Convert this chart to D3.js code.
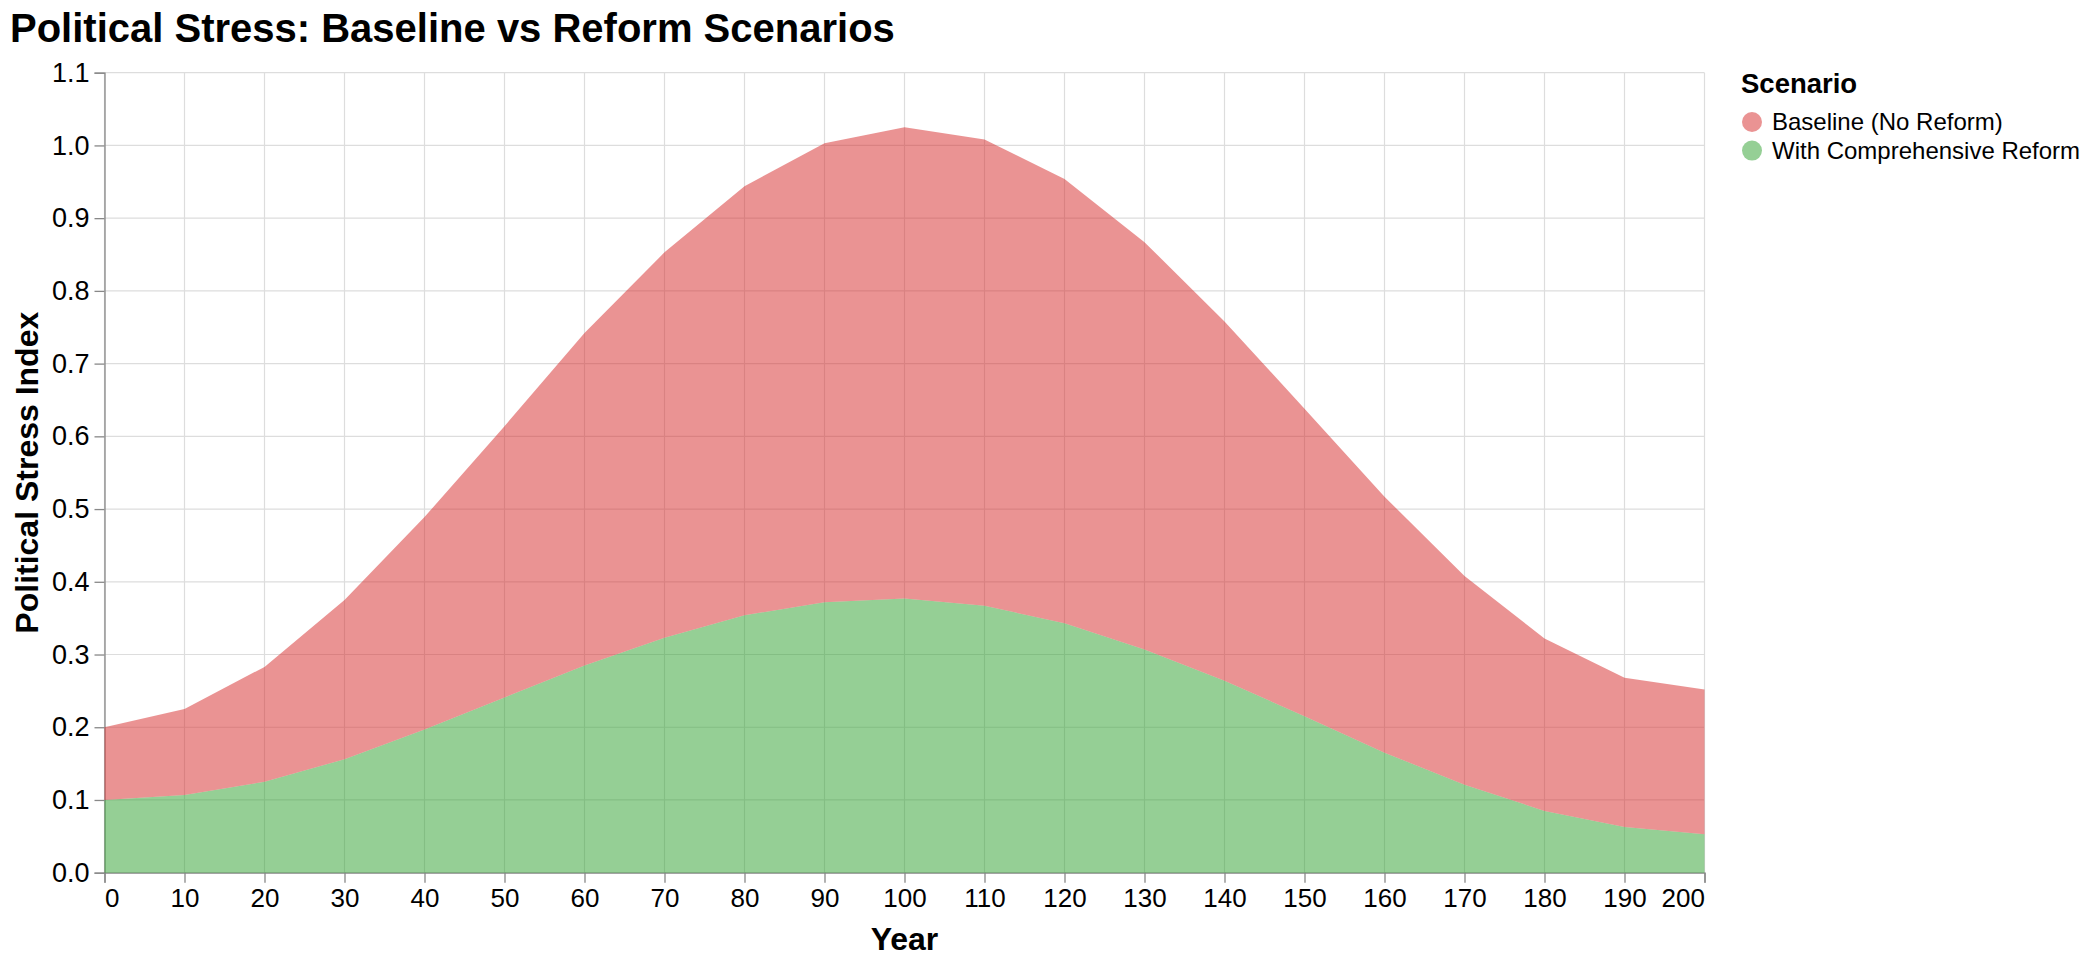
<!DOCTYPE html>
<html>
<head>
<meta charset="utf-8">
<script src="https://cdn.jsdelivr.net/npm/d3@7"></script>
<style>
  body { margin: 0; background: #fff; }
  text { font-family: "Liberation Sans", Arial, Helvetica, sans-serif; }
</style>
</head>
<body>
<svg id="chart" width="2092" height="964"></svg>
<script>
'use strict';

// Data
var years = [0, 10, 20, 30, 40, 50, 60, 70, 80, 90, 100, 110, 120, 130, 140, 150, 160, 170, 180, 190, 200];
// stacked: reform at the bottom, baseline on top of it
var reform   = [0.100, 0.107, 0.125, 0.156, 0.197, 0.241, 0.285, 0.323, 0.354, 0.372, 0.377, 0.367, 0.343, 0.307, 0.264, 0.215, 0.165, 0.121, 0.085, 0.063, 0.053];
var baseline = [0.100, 0.118, 0.158, 0.219, 0.292, 0.373, 0.457, 0.530, 0.590, 0.631, 0.648, 0.641, 0.611, 0.560, 0.494, 0.423, 0.352, 0.287, 0.237, 0.205, 0.199];
var scenarios = ['Baseline (No Reform)', 'With Comprehensive Reform'];
var colors = ['#d62728', '#2ca02c'];
var yTicks = [0, 0.1, 0.2, 0.3, 0.4, 0.5, 0.6, 0.7, 0.8, 0.9, 1.0, 1.1];
var xTicks = years;

(function() {
  var svg = d3.select('#chart');
  var mLeft = 104.5, mTop = 72.7, width = 1600, height = 800;

  var x = d3.scaleLinear().domain([0, 200]).range([0, width]);
  var y = d3.scaleLinear().domain([0, 1.1]).range([height, 0]);
  var color = d3.scaleOrdinal().domain(scenarios).range(colors);

  var g = svg.append('g').attr('transform', 'translate(' + mLeft + ',' + mTop + ')');

  // grid
  g.append('g').selectAll('line').data(yTicks).join('line')
    .attr('x1', 0).attr('x2', width)
    .attr('y1', function(d) { return y(d); }).attr('y2', function(d) { return y(d); })
    .attr('stroke', '#ddd').attr('stroke-width', 1.2);
  g.append('g').selectAll('line').data(xTicks).join('line')
    .attr('y1', 0).attr('y2', height)
    .attr('x1', function(d) { return x(d); }).attr('x2', function(d) { return x(d); })
    .attr('stroke', '#ddd').attr('stroke-width', 1.2);

  // axes
  var xAxis = g.append('g').attr('transform', 'translate(0,' + height + ')')
    .call(d3.axisBottom(x).tickValues(xTicks).tickFormat(d3.format('d')).tickSize(10).tickPadding(6));
  var yAxis = g.append('g')
    .call(d3.axisLeft(y).tickValues(yTicks).tickFormat(d3.format('.1f')).tickSize(10).tickPadding(5));

  [xAxis, yAxis].forEach(function(a) {
    a.select('.domain').attr('stroke', '#888').attr('stroke-width', 1.3);
    a.selectAll('.tick line').attr('stroke', '#888').attr('stroke-width', 1.3);
    a.selectAll('.tick text').attr('fill', '#000')
      .style('font-family', '"Liberation Sans", Arial, sans-serif');
  });
  xAxis.selectAll('.tick text').style('font-size', '26px');
  yAxis.selectAll('.tick text').style('font-size', '27px');
  // first and last x labels flush with the ends
  xAxis.selectAll('.tick text').attr('text-anchor', function(d) {
    return d === 0 ? 'start' : (d === 200 ? 'end' : 'middle');
  });

  // stacked areas
  var table = years.map(function(yr, i) {
    return { year: yr, 'Baseline (No Reform)': baseline[i], 'With Comprehensive Reform': reform[i] };
  });
  var series = d3.stack().keys([scenarios[1], scenarios[0]])(table);

  var area = d3.area()
    .x(function(d) { return x(d.data.year); })
    .y0(function(d) { return y(d[0]); })
    .y1(function(d) { return y(d[1]); });

  g.append('g').selectAll('path').data(series).join('path')
    .attr('d', area)
    .attr('fill', function(s) { return color(s.key); })
    .attr('fill-opacity', 0.5);

  // titles
  svg.append('text').attr('x', 10).attr('y', 42)
    .style('font-size', '40px').style('font-weight', 'bold')
    .text('Political Stress: Baseline vs Reform Scenarios');

  svg.append('text').attr('x', mLeft + width / 2).attr('y', 950)
    .attr('text-anchor', 'middle')
    .style('font-size', '32px').style('font-weight', 'bold')
    .text('Year');

  svg.append('text')
    .attr('transform', 'translate(38,' + (mTop + height / 2) + ') rotate(-90)')
    .attr('text-anchor', 'middle')
    .style('font-size', '32px').style('font-weight', 'bold')
    .text('Political Stress Index');

  // legend
  var legend = svg.append('g').attr('transform', 'translate(1741,0)');
  legend.append('text').attr('x', 0).attr('y', 93)
    .style('font-size', '27.5px').style('font-weight', 'bold')
    .text('Scenario');
  var item = legend.selectAll('g.item').data(scenarios).join('g')
    .attr('class', 'item')
    .attr('transform', function(d, i) { return 'translate(0,' + (122 + i * 28.6) + ')'; });
  item.append('circle').attr('cx', 11).attr('cy', 0).attr('r', 10)
    .attr('fill', function(d) { return color(d); }).attr('fill-opacity', 0.5);
  item.append('text').attr('x', 31).attr('y', 0).attr('dy', '0.35em')
    .style('font-size', '24px')
    .text(function(d) { return d; });
})();
</script>
</body>
</html>
